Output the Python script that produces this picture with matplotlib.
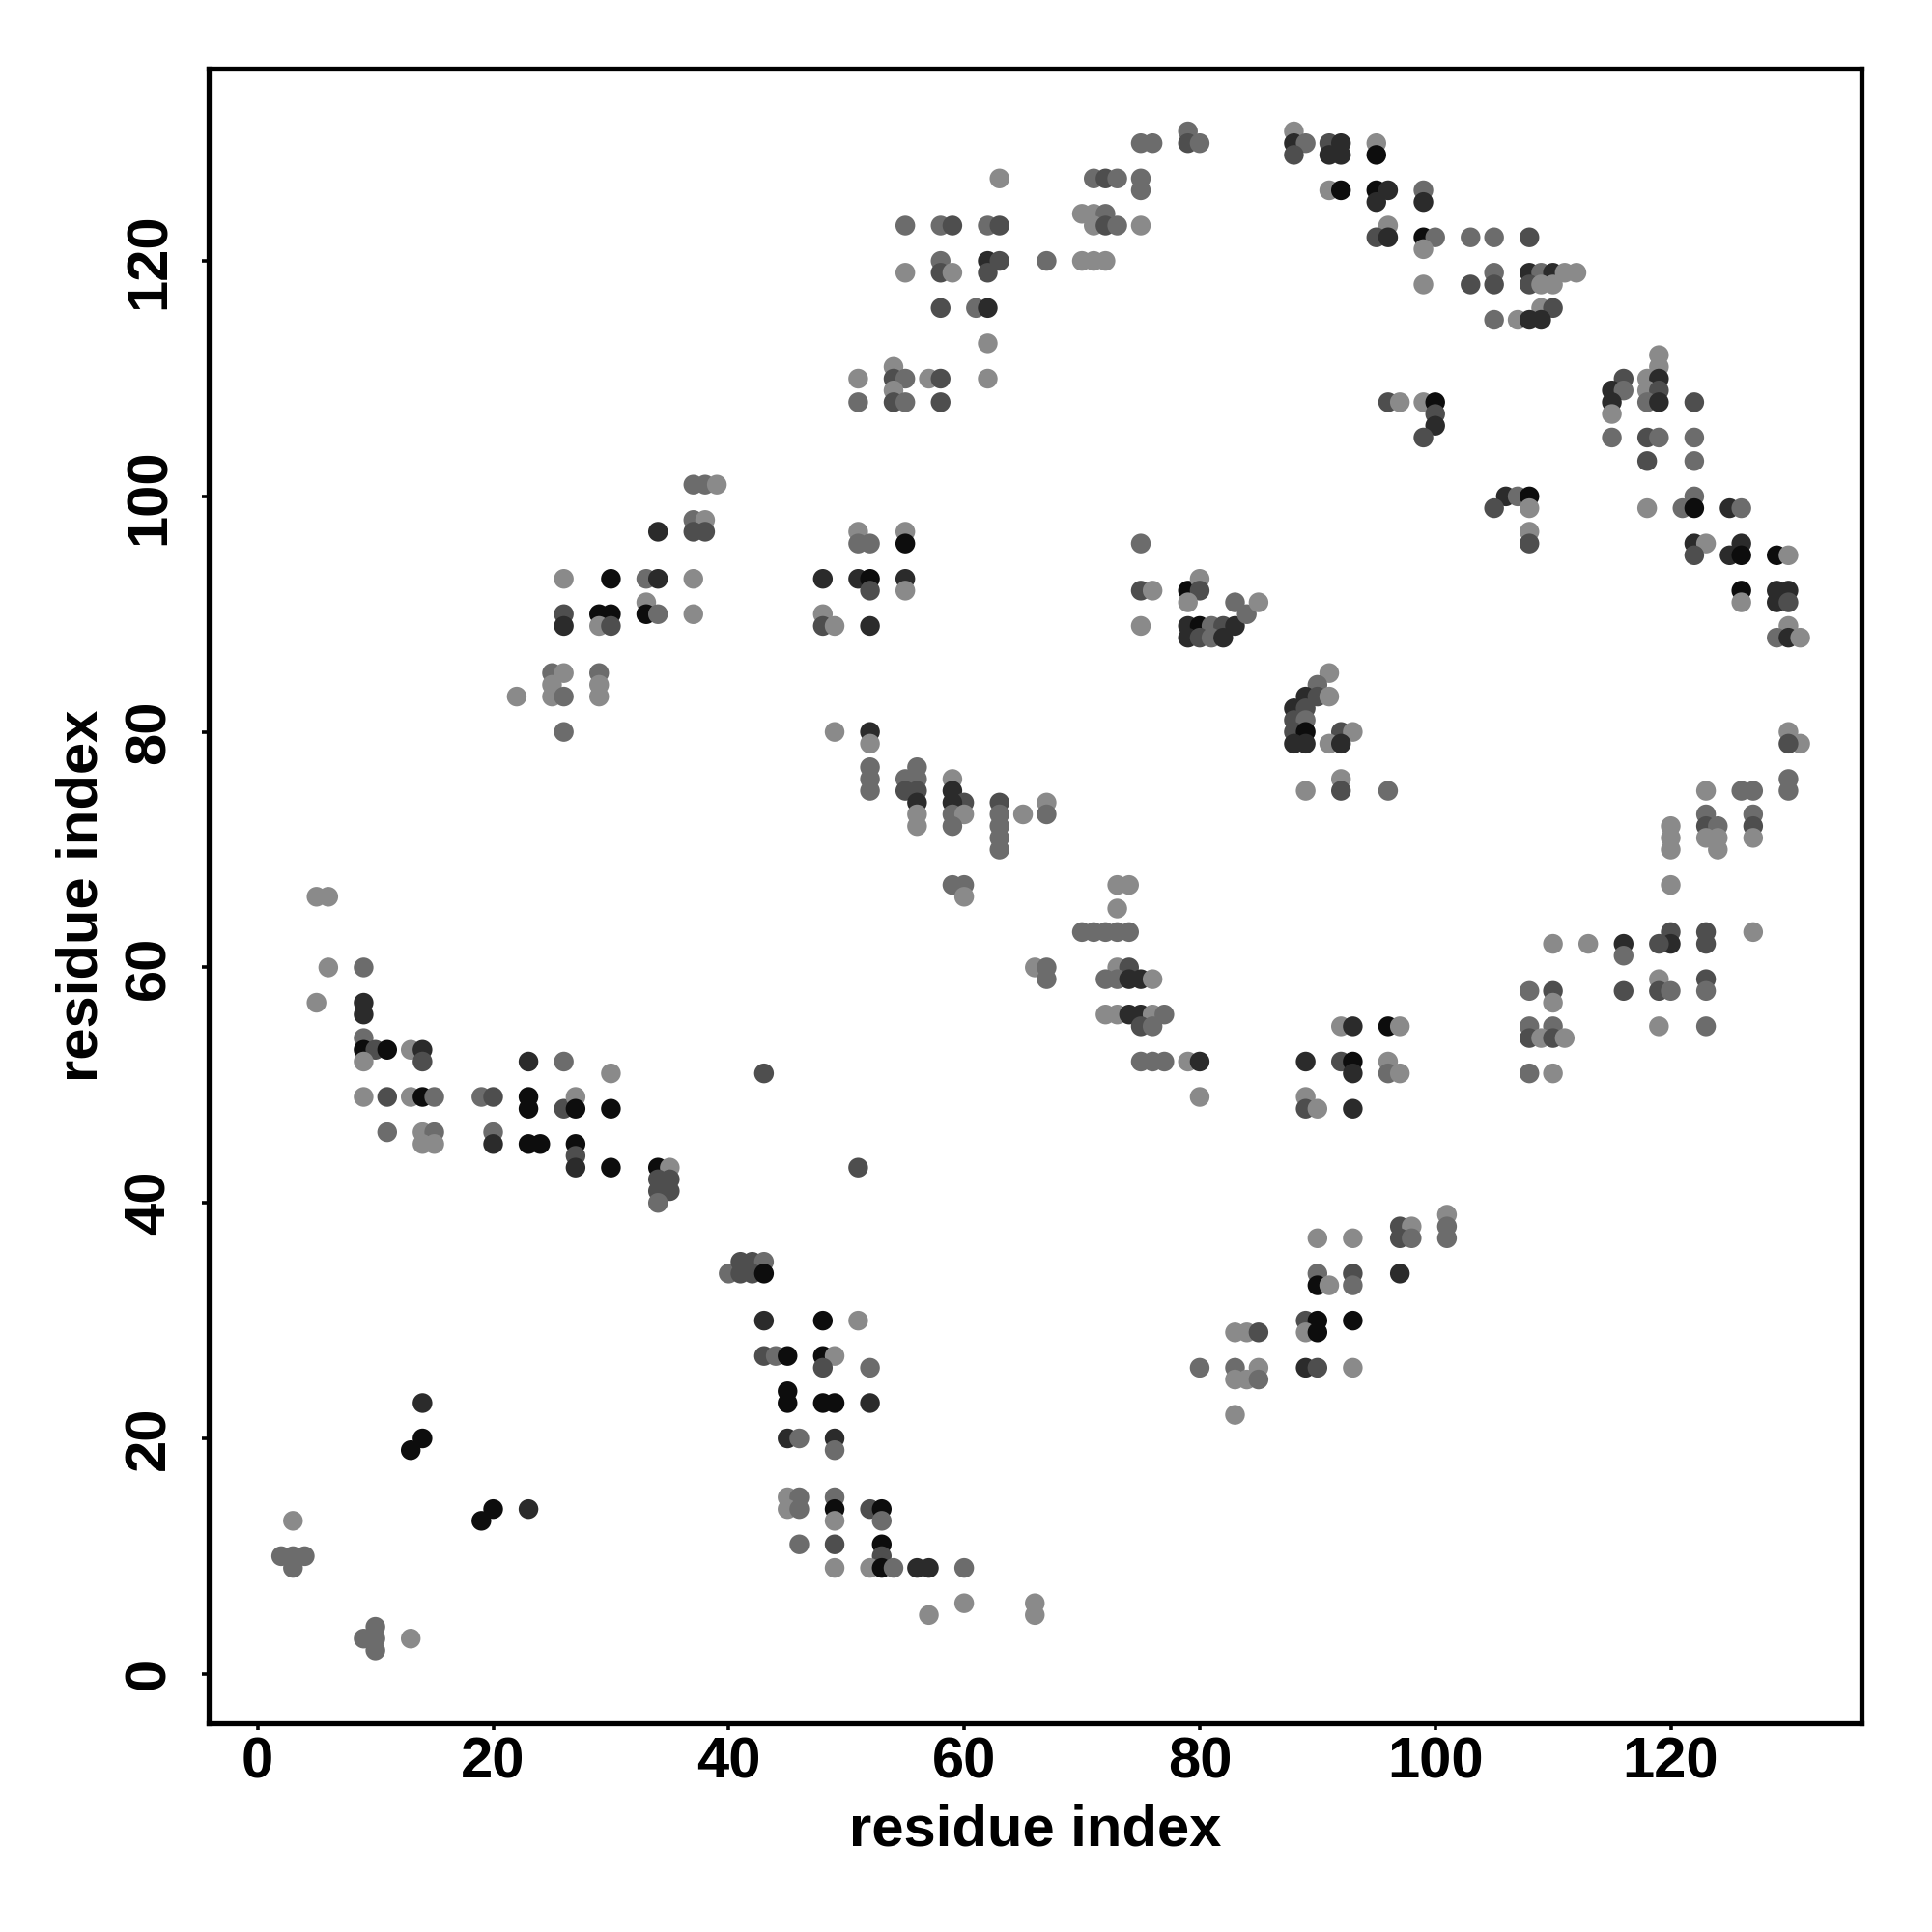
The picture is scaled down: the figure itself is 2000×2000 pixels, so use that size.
import matplotlib
matplotlib.use("Agg")
import matplotlib.pyplot as plt

# contacts: (residue i, residue j, shade level 1=light .. 5=black)
block_a = [(3,13,1),(2,10,2),(3,10,2),(4,10,2),(3,9,2),(10,4,2),(9,3,2),(10,3,2),(10,2,2),(13,3,1),
           (14,23,4),(14,20,5),(13,19,5),(20,14,5),(19,13,5),(23,14,4)]
block_b = [(5,66,1),(6,66,1),(6,60,1),(9,60,2),(5,57,1),(9,57,4),(9,56,4),(9,54,2),(9,53,5),(10,53,3),
           (11,53,5),(9,52,1),(13,53,1),(14,53,4),(14,52,3),(9,49,1),(11,49,3),(13,49,1),(14,49,5),(15,49,2),
           (19,49,2),(20,49,3),(23,49,5),(23,48,5),(23,52,4),(26,52,2),(30,51,1),(26,48,3),(27,49,1),(27,48,5),
           (30,48,5),(11,46,2),(14,46,1),(15,46,2),(14,45,1),(15,45,1),(20,46,2),(20,45,4),(23,45,5),(24,45,5),
           (27,45,5),(27,44,3),(27,43,4),(30,43,5),(34,43,5),(35,43,1),(34,42,3),(35,42,3),(34,41,3),(35,41,3),
           (34,40,2),(40,34,2),(41,35,3),(42,35,3),(43,35,2),(41,34,3),(42,34,3),(43,34,5),(43,51,3)]
block_c = [(37,101,2),(38,101,2),(39,101,1),(37,98,2),(38,98,1),(37,97,3),(38,97,3),(34,97,4),(26,93,1),
           (30,93,5),(33,93,2),(34,93,4),(37,93,1),(33,91,1),(33,90,5),(34,90,2),(37,90,1),(26,90,3),(26,89,4),
           (29,90,5),(30,90,5),(29,89,1),(30,89,3),(25,85,2),(26,85,1),(29,85,2),(25,84,1),(29,84,1),(22,83,1),
           (25,83,1),(26,83,2),(29,83,1),(26,80,2)]
block_d = [(43,30,4),(48,30,5),(51,30,1),(43,27,3),(44,27,2),(45,27,5),(48,27,5),(49,27,1),(52,26,2),(48,26,3),
           (45,24,5),(45,23,5),(48,23,5),(49,23,5),(52,23,4),(45,20,4),(46,20,2),(49,20,4),(49,19,2),(45,15,1),
           (46,15,2),(49,15,2),(45,14,1),(46,14,2),(49,14,5),(52,14,3),(53,14,5),(49,13,1),(53,13,2),(46,11,2),
           (49,11,3),(53,11,5),(53,10,3),(49,9,1),(52,9,1),(53,9,5),(54,9,2),(56,9,4),(57,9,4),(60,9,2),
           (60,6,1),(66,6,1),(57,5,1),(66,5,1)]
block_e = [(80,26,2),(83,29,1),(84,29,1),(85,29,3),(83,26,2),(85,26,1),(83,25,1),(84,25,1),(85,25,2),(83,22,1),
           (89,30,3),(90,30,5),(89,29,1),(90,29,5),(90,34,2),(90,33,5),(91,33,1),(93,34,3),(93,33,2),(93,30,5),
           (93,26,1),(89,26,4),(90,26,3),(90,37,1),(93,37,1),(97,38,3),(98,38,1),(97,37,3),(98,37,2),(97,34,4),
           (101,39,1),(101,38,2),(101,37,2)]
block_f = [(59,67,2),(60,67,2),(60,66,1),(73,67,1),(74,67,1),(73,65,1),(70,63,2),(71,63,2),(72,63,2),(73,63,2),
           (74,63,2),(66,60,1),(67,60,2),(67,59,2),(73,60,1),(74,60,3),(72,59,2),(73,59,2),(74,59,4),(75,59,4),
           (76,59,1),(72,56,1),(73,56,1),(74,56,4),(75,56,4),(76,56,1),(77,56,2),(75,55,3),(76,55,2),(75,52,2),
           (76,52,2),(77,52,2),(79,52,1),(80,52,4),(80,49,1),(89,52,4),(89,49,1),(89,48,3),(90,48,1),(51,43,3)]
block_g = [(51,97,1),(51,96,2),(52,96,2),(55,97,1),(55,96,5),(48,93,4),(51,93,4),(52,93,5),(55,93,4),(52,92,3),
           (55,92,1),(48,90,1),(48,89,3),(49,89,1),(52,89,4),(75,96,2),(75,92,3),(76,92,1),(75,89,1),(79,92,5),
           (80,93,1),(80,92,3),(79,91,1),(79,89,4),(80,89,5),(81,89,2),(82,89,3),(83,89,4),(83,91,2),(84,90,2),
           (85,91,1),(79,88,4),(80,88,3),(81,88,2),(82,88,4)]
block_h = [(49,80,1),(52,80,4),(52,79,1),(52,77,2),(52,76,2),(52,75,2),(55,76,2),(56,77,2),(56,76,2),(55,75,3),
           (56,75,3),(56,74,4),(56,73,1),(56,72,1),(59,76,1),(59,75,4),(60,74,3),(59,74,4),(59,73,2),(60,73,1),
           (59,72,2),(63,74,3),(63,73,2),(63,72,2),(63,71,2),(63,70,2),(65,73,1),(67,74,1),(67,73,2),
           (91,85,1),(90,84,2),(89,83,4),(90,83,3),(91,83,1),(88,82,4),(89,82,3),(88,81,3),(89,81,2),(88,80,3),
           (89,80,5),(88,79,4),(89,79,4),(89,75,1)]
block_i = [(63,127,1),(55,123,2),(58,123,2),(59,123,3),(62,123,2),(63,123,3),(55,119,1),(58,120,2),(58,119,3),
           (59,119,1),(62,120,4),(63,120,3),(62,119,3),(67,120,2),(70,120,1),(71,120,1),(72,120,1),(58,116,3),
           (61,116,2),(62,116,4),(62,113,1),(51,110,1),(54,111,1),(54,110,3),(55,110,2),(54,109,1),(57,110,1),
           (58,110,3),(62,110,1),(51,108,2),(54,108,3),(55,108,2),(58,108,3)]
block_j = [(75,130,2),(76,130,2),(79,131,2),(79,130,3),(80,130,2),(88,131,1),(88,130,4),(89,130,2),(88,129,3),
           (71,127,2),(72,127,3),(73,127,2),(75,127,2),(75,126,2),(70,124,1),(71,124,1),(72,124,2),(71,123,1),
           (72,123,3),(73,123,2),(75,123,1)]
block_k = [(91,130,3),(92,130,4),(91,129,4),(92,129,4),(95,130,1),(95,129,5),(91,126,1),(92,126,5),(95,126,5),
           (96,126,4),(95,125,4),(99,126,2),(99,125,4),(96,123,1),(95,122,3),(96,122,4),(99,122,5),(100,122,2),
           (103,122,2),(105,122,2),(108,122,3),(99,121,1),(105,119,2),(108,119,4),(109,119,2),(110,119,4),
           (111,119,1),(112,119,1),(99,118,1),(103,118,3),(105,118,3),(108,118,3),(109,118,1),(110,118,1),
           (109,116,1),(110,116,3),(105,115,2),(107,115,1),(108,115,4),(109,115,4)]
block_l = [(119,112,1),(119,111,1),(116,110,3),(118,110,1),(119,110,4),(115,109,4),(116,109,2),(118,109,1),
           (119,109,3),(115,108,4),(118,108,2),(119,108,4),(122,108,3),(115,107,1),(115,105,2),(118,105,3),
           (119,105,2),(122,105,2),(118,103,3),(122,103,2),(96,108,3),(97,108,1),(99,108,1),(100,108,5),
           (100,107,3),(100,106,4),(99,105,3)]
block_m = [(106,100,4),(107,100,2),(108,100,5),(105,99,3),(108,99,1),(108,97,1),(108,96,3),(118,99,1),(121,99,2),
           (122,100,2),(122,99,5),(125,99,4),(126,99,2),(122,96,4),(123,96,1),(122,95,3),(126,96,4),(125,95,4),
           (126,95,5),(129,95,5),(130,95,1),(126,92,5),(126,91,1),(129,92,4),(130,92,4),(129,91,4),(130,91,3),
           (130,89,1),(129,88,2),(130,88,4),(131,88,1)]
block_n = [(92,80,3),(93,80,1),(91,79,1),(92,79,4),(92,76,1),(92,75,3),(96,75,2),(130,80,1),(131,79,1),
           (130,79,3),(130,76,2),(130,75,2),(123,75,1),(126,75,2),(127,75,2),(127,73,2),(127,72,3),(127,71,1),
           (123,73,2),(123,72,3),(124,72,2),(123,71,1),(124,71,1),(124,70,1),(120,72,1),(120,71,1),(120,70,1),
           (120,67,1)]
block_o = [(120,63,3),(120,62,4),(119,62,3),(123,63,3),(123,62,3),(127,63,1),(116,62,4),(116,61,2),(110,62,1),
           (113,62,1),(119,59,1),(123,59,3),(108,58,2),(110,58,3),(116,58,3),(119,58,3),(120,58,2),(123,58,2),
           (110,57,1),(119,55,1),(123,55,2),(108,55,2),(110,55,2),(108,54,3),(109,54,1),(110,54,3),(111,54,1),
           (108,51,2),(110,51,1),(92,55,1),(93,55,4),(96,55,5),(97,55,1),(92,52,3),(93,52,5),(93,51,4),
           (96,52,1),(96,51,2),(97,51,1),(93,48,4)]

blocks = [block_a, block_b, block_c, block_d, block_e, block_f, block_g, block_h,
          block_i, block_j, block_k, block_l, block_m, block_n, block_o]

x_ticks = [0, 20, 40, 60, 80, 100, 120]
y_ticks = [0, 20, 40, 60, 80, 100, 120]
x_label = "residue index"
y_label = "residue index"

shade_colors = {1: "#8a8a8a", 2: "#6c6c6c", 3: "#4e4e4e", 4: "#2b2b2b", 5: "#0d0d0d"}

xs, ys, cs = [], [], []
for blk in blocks:
    for i, j, s in blk:
        xs.append(i)
        ys.append(j)
        cs.append(shade_colors[s])

plt.rcParams["font.family"] = ["Liberation Sans", "DejaVu Sans"]
plt.rcParams["font.weight"] = "bold"

fig = plt.figure(figsize=(10, 10), dpi=200)
ax = fig.add_axes([0.108, 0.108, 0.8555, 0.8563])
ax.scatter(xs, ys, s=54, c=cs, linewidths=0, zorder=2)

ax.set_xlim(-4.16, 136.2)
ax.set_ylim(-4.2, 136.3)
ax.set_xticks(x_ticks)
ax.set_yticks(y_ticks)
ax.set_xticklabels([str(t) for t in x_ticks], fontsize=21.5, fontweight="bold")
ax.set_yticklabels([str(t) for t in y_ticks], fontsize=21.5, fontweight="bold",
                   rotation=90, va="center")
ax.tick_params(axis="both", direction="out", length=2.4, width=1.3, color="black")
ax.tick_params(axis="x", pad=2.5)
ax.tick_params(axis="y", pad=9.7)
for sp in ax.spines.values():
    sp.set_linewidth(1.9)
ax.set_xlabel(x_label, fontsize=21.5, fontweight="bold", labelpad=5.4)
ax.set_ylabel(y_label, fontsize=21.5, fontweight="bold", labelpad=5.4)

fig.savefig("out.png", dpi=200, facecolor="white")
